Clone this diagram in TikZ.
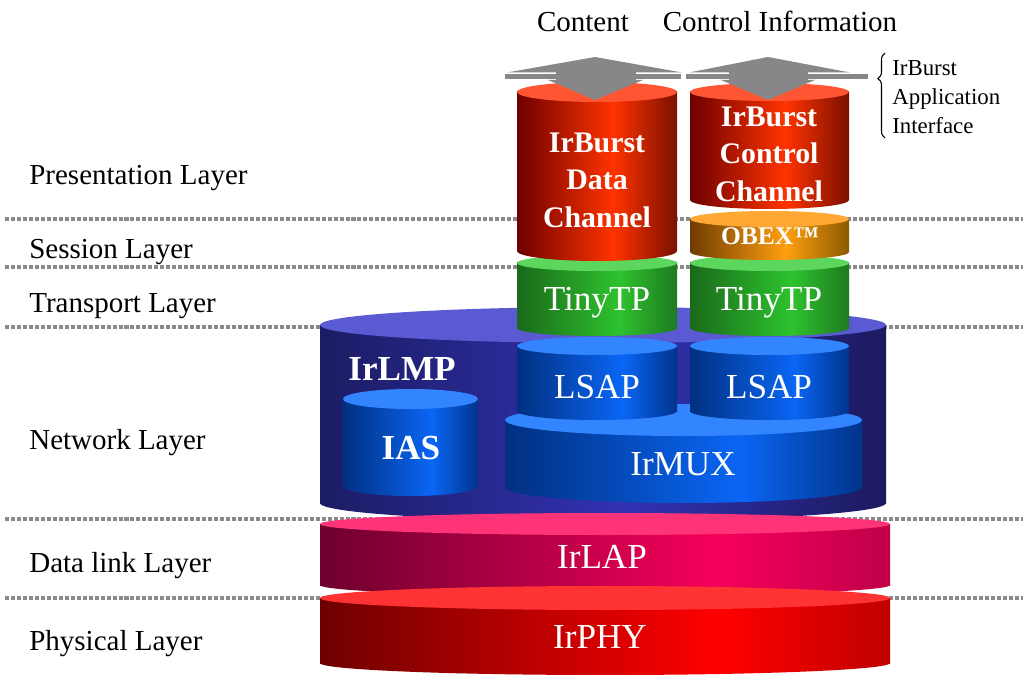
\documentclass[tikz,border=0pt]{standalone}
\usepackage{fontspec}
\setmainfont{Liberation Serif}
\usetikzlibrary{decorations.pathreplacing}

% colours of the layers: top face, dark left edge, bright band, dark right edge
\definecolor{sepgray}{HTML}{8A8A8A}
\definecolor{arrowgray}{HTML}{878787}
\definecolor{lmpTop}{HTML}{5A5AD2}
\definecolor{lmpL}{HTML}{1C1C64}
\definecolor{lmpM}{HTML}{3232B4}
\definecolor{lmpR}{HTML}{1C1A5E}
\definecolor{bluTop}{HTML}{3385FF}
\definecolor{bluL}{HTML}{003080}
\definecolor{bluM}{HTML}{0A66F5}
\definecolor{bluR}{HTML}{00348C}
\definecolor{grnTop}{HTML}{5CD65C}
\definecolor{grnL}{HTML}{1A6A1A}
\definecolor{grnM}{HTML}{2EC22E}
\definecolor{grnR}{HTML}{1F7A1F}
\definecolor{redTop}{HTML}{FF5533}
\definecolor{redL}{HTML}{6E0000}
\definecolor{redM}{HTML}{FF3300}
\definecolor{redR}{HTML}{7A1000}
\definecolor{orgTop}{HTML}{FFA833}
\definecolor{orgL}{HTML}{6E3C00}
\definecolor{orgM}{HTML}{FF9F10}
\definecolor{orgR}{HTML}{8C5A00}
\definecolor{lapTop}{HTML}{FF3377}
\definecolor{lapL}{HTML}{6E002E}
\definecolor{lapM}{HTML}{F5005A}
\definecolor{lapR}{HTML}{C00048}
\definecolor{phyTop}{HTML}{FF3333}
\definecolor{phyL}{HTML}{6E0000}
\definecolor{phyM}{HTML}{FF0000}
\definecolor{phyR}{HTML}{C00000}

% horizontal side shading: name, left colour, bright colour, bright position (25..75bp), right colour
\newcommand\sideshading[5]{%
  \pgfdeclarehorizontalshading{#1}{100bp}{color(0bp)=(#2); color(25bp)=(#2);
    color(#4bp)=(#3); color(75bp)=(#5); color(100bp)=(#5)}}
\sideshading{lmpSide}{lmpL}{lmpM}{52}{lmpR}
\sideshading{bluSide}{bluL}{bluM}{58}{bluR}
\sideshading{grnSide}{grnL}{grnM}{57}{grnR}
\sideshading{redSide}{redL}{redM}{55}{redR}
\sideshading{orgSide}{orgL}{orgM}{55}{orgR}
\sideshading{lapSide}{lapL}{lapM}{60}{lapR}
\sideshading{phySide}{phyL}{phyM}{60}{phyR}

% drum: side shading, top colour, left x, right x, top centre y, bottom centre y, half height of the ends
\newcommand\drum[7]{%
  \shade[shading=#1] (#3,#5) rectangle (#4,#6);
  \shade[shading=#1] ({(#3+#4)/2},#6) ellipse [x radius={(#4-#3)/2}, y radius=#7];
  \fill[#2] ({(#3+#4)/2},#5) ellipse [x radius={(#4-#3)/2}, y radius=#7];
}

\begin{document}
\begin{tikzpicture}[x=0.02cm, y=-0.02cm,
  layer/.style={anchor=base west, inner sep=0pt, font=\fontsize{16.5}{20}\selectfont},
  head/.style={anchor=base, inner sep=0pt, font=\fontsize{16.5}{20}\selectfont},
  lbl/.style={anchor=base, inner sep=0pt, text=white, font=\fontsize{20}{24}\selectfont},
  blbl/.style={inner sep=0pt, text=white, align=center, font=\bfseries\fontsize{17}{21.3}\selectfont},
  sep/.style={draw=sepgray, line width=2.2pt, dash pattern=on 2.3pt off 1.1pt},
  arrowfill/.style={fill=arrowgray}]
\useasboundingbox (0,0) rectangle (1023,675);
\clip (0,0) rectangle (1023,675);
\fill[white] (0,0) rectangle (1023,675);

% layer boundaries
\foreach \yy in {219,267,327,519,598}
  \draw[sep] (5,\yy) -- (1023,\yy);

% IrLMP block with its parts
\drum{lmpSide}{lmpTop}{320}{886}{325}{503}{18}
\drum{bluSide}{bluTop}{343}{478}{399}{486}{10}
\drum{bluSide}{bluTop}{505}{862}{420}{487}{16}
\drum{bluSide}{bluTop}{517}{677}{346}{411}{9}
\drum{bluSide}{bluTop}{690}{849}{346}{411}{9}
% TinyTP
\drum{grnSide}{grnTop}{517}{677}{263}{328}{8}
\drum{grnSide}{grnTop}{690}{849}{263}{328}{8}
% OBEX
\drum{orgSide}{orgTop}{690}{849}{219}{252}{8}
% IrBurst channels
\drum{redSide}{redTop}{517}{677}{92}{251}{10}
\drum{redSide}{redTop}{690}{849}{92}{200}{9}
% IrLAP and IrPHY
\drum{lapSide}{lapTop}{320}{890}{524}{585}{11}
\drum{phySide}{phyTop}{320}{890}{598}{663}{12}

% two-way arrows of the application interface
\fill[arrowfill] (507,72.5) -- (595,57) -- (682,72.5) -- cycle;
\fill[arrowfill] (505,74.5) rectangle (681,79);
\fill[arrowfill] (556,70) rectangle (636,81);
\fill[arrowfill] (548,80) -- (595,100) -- (643,80) -- cycle;
\fill[arrowfill] (689,72.5) -- (768,57) -- (850,72.5) -- cycle;
\fill[arrowfill] (686,74.5) rectangle (868,79);
\fill[arrowfill] (729,70) rectangle (808,81);
\fill[arrowfill] (721,80) -- (768,100) -- (815,80) -- cycle;

% headings
\node[head] (content) at (583,32) {Content};
\node[head] (control) at (780,32) {Control Information};

% interface note
\draw[decorate, decoration={brace, amplitude=4pt, aspect=0.7}, line width=0.6pt]
  (885,138) -- (885,53);
\node[anchor=west, inner sep=0pt, align=left, font=\fontsize{13}{16.7}\selectfont]
  (api) at (892,97) {IrBurst\\Application\\Interface};

% layer names
\node[layer] (pres) at (29,185) {Presentation Layer};
\node[layer] (sess) at (29,258) {Session Layer};
\node[layer] (trans) at (29,312) {Transport Layer};
\node[layer] (net) at (29,449) {Network Layer};
\node[layer] (link) at (29,572) {Data link Layer};
\node[layer] (phys) at (29,650) {Physical Layer};

% component names
\node[blbl] (data) at (597,180) {IrBurst\\Data\\Channel};
\node[blbl] (ctrl) at (769,154) {IrBurst\\Control\\Channel};
\node[anchor=base, inner sep=0pt, text=white, font=\bfseries\fontsize{14.5}{17}\selectfont]
  (obex) at (770,245) {OBEX™};
\node[lbl] (tp1) at (597,310) {TinyTP};
\node[lbl] (tp2) at (769,310) {TinyTP};
\node[lbl] (lsap1) at (597,398) {LSAP};
\node[lbl] (lsap2) at (769,398) {LSAP};
\node[lbl, font=\bfseries\fontsize{20}{24}\selectfont] (lmp) at (402,380) {IrLMP};
\node[lbl, font=\bfseries\fontsize{20}{24}\selectfont] (ias) at (411,459) {IAS};
\node[lbl] (mux) at (683,475) {IrMUX};
\node[lbl] (lap) at (602,568) {IrLAP};
\node[lbl] (phy) at (600,648) {IrPHY};
\end{tikzpicture}
\end{document}
